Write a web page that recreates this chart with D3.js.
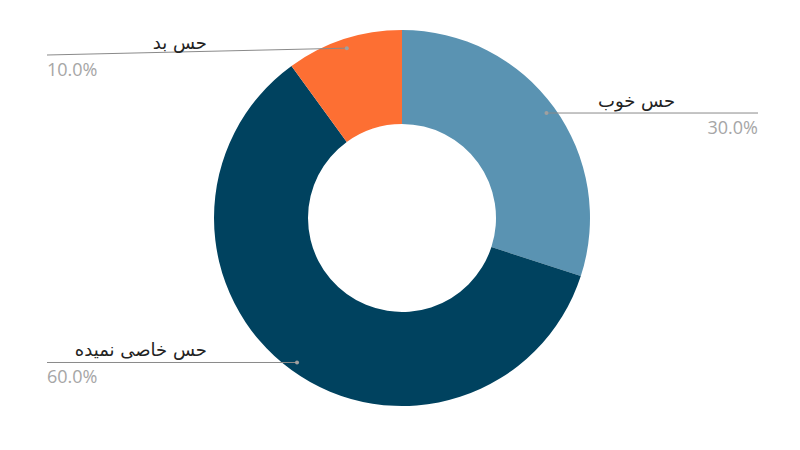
<!DOCTYPE html>
<meta charset="utf-8">
<style>
body { margin: 0; background: #fff; }
.label { font-family: "DejaVu Sans", "Noto Sans", sans-serif; font-size: 18px; fill: #222; }
.pct { font-family: "Open Sans", "Noto Sans", sans-serif; font-size: 18px; fill: #a6a6a6; }
</style>
<svg width="800" height="450"></svg>
<script src="https://d3js.org/d3.v7.min.js"></script>
<script>

var labels = ["حس خوب", "حس خاصی نمیده", "حس بد"];
var values = [30, 60, 10];
var colors = ["#5a93b2", "#00425f", "#fd6f33"];

var svg = d3.select("svg"),
    cx = 402, cy = 218,
    outer = 188, inner = 94;

var total = d3.sum(values);

var pie = d3.pie().sort(null).value(function(d) { return d; });
var arc = d3.arc().innerRadius(inner).outerRadius(outer);
var dotArc = d3.arc().innerRadius(outer * 0.95).outerRadius(outer * 0.95);

var arcs = pie(values);

var g = svg.append("g").attr("transform", "translate(" + cx + "," + cy + ")");

g.selectAll("path")
  .data(arcs)
  .enter().append("path")
    .attr("d", arc)
    .attr("fill", function(d, i) { return colors[i]; });

// leader lines + labels
var leftX = 47, rightX = 758, textOff = 160, minY = 55;

svg.append("g").selectAll("g")
  .data(arcs)
  .enter().append("g")
    .each(function(d, i) {
      var c = dotArc.centroid(d),
          px = cx + c[0], py = cy + c[1],
          right = px > cx,
          ex = right ? rightX : leftX,
          ey = Math.max(py, minY),
          sel = d3.select(this);

      sel.append("line")
        .attr("x1", px).attr("y1", py)
        .attr("x2", ex).attr("y2", ey)
        .attr("stroke", "#8a8a8a")
        .attr("stroke-width", 1);

      sel.append("circle")
        .attr("cx", px).attr("cy", py).attr("r", 2)
        .attr("fill", "#a0a0a0");

      sel.append("text")
        .attr("class", "label")
        .attr("x", right ? ex - textOff : ex + textOff)
        .attr("y", ey - 6)
        .attr("text-anchor", right ? "start" : "end")
        .text(labels[i]);

      sel.append("text")
        .attr("class", "pct")
        .attr("x", ex)
        .attr("y", ey + 21)
        .attr("text-anchor", right ? "end" : "start")
        .text(d3.format(".1f")(values[i] / total * 100) + "%");
    });

</script>
